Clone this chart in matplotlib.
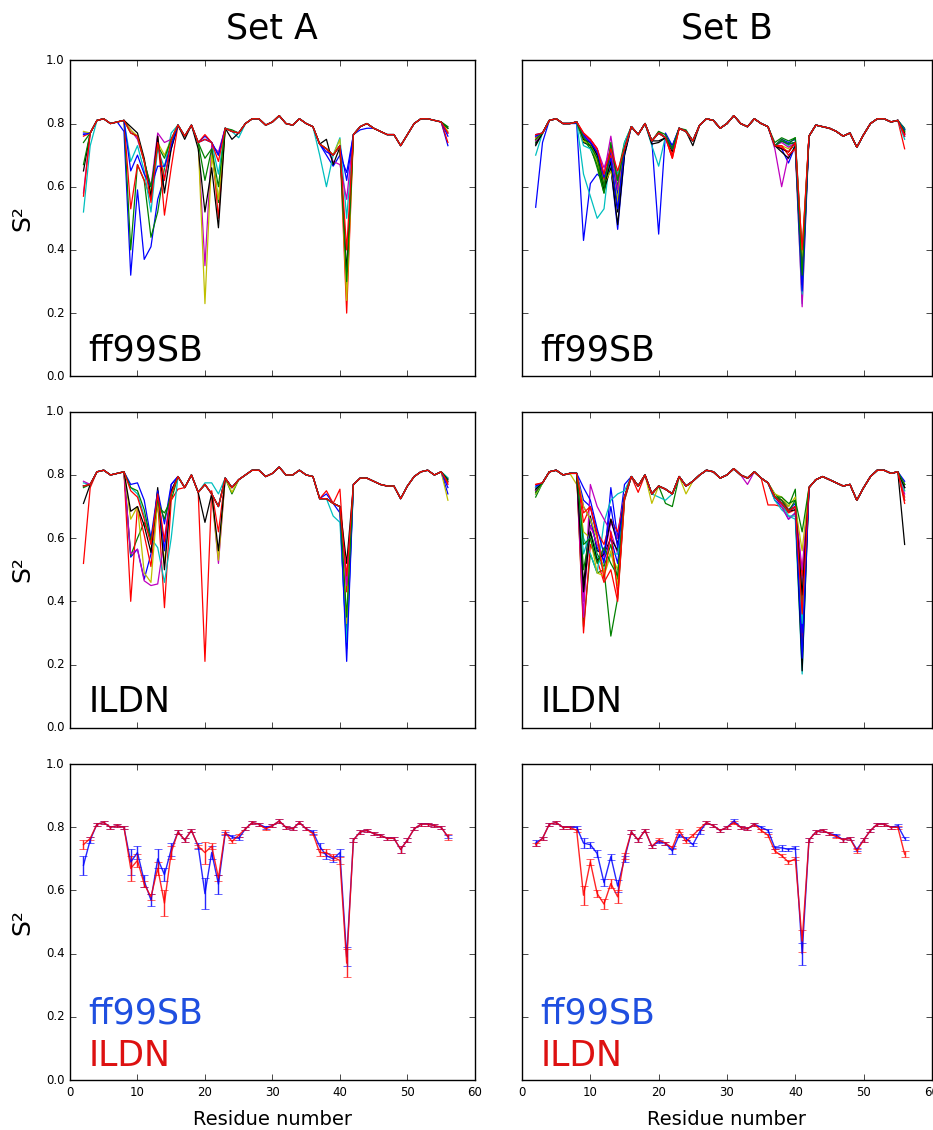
import matplotlib
matplotlib.use("Agg")
import matplotlib.pyplot as plt

plt.style.use("classic")

# residues 2..56
RES = list(range(2, 57))

# ---- typical per-residue profile of each ensemble (runs deviate from it where listed)
A_FF_BASE = [0.76, 0.77, 0.81, 0.815, 0.80, 0.805, 0.81, 0.79, 0.76, 0.68,
             0.60, 0.75, 0.68, 0.75, 0.795, 0.76, 0.795, 0.74, 0.76, 0.74,
             0.70, 0.785, 0.775, 0.77, 0.80, 0.815, 0.815, 0.795, 0.805, 0.825,
             0.80, 0.795, 0.815, 0.80, 0.79, 0.735, 0.72, 0.70, 0.73, 0.45,
             0.765, 0.79, 0.80, 0.785, 0.775, 0.765, 0.765, 0.73, 0.765, 0.80,
             0.815, 0.815, 0.81, 0.805, 0.785]
A_IL_BASE = [0.765, 0.77, 0.81, 0.815, 0.80, 0.805, 0.81, 0.76, 0.76, 0.70,
             0.60, 0.75, 0.55, 0.74, 0.795, 0.76, 0.80, 0.745, 0.77, 0.74,
             0.70, 0.79, 0.76, 0.785, 0.80, 0.815, 0.815, 0.795, 0.805, 0.825,
             0.80, 0.80, 0.815, 0.80, 0.795, 0.725, 0.725, 0.71, 0.70, 0.38,
             0.77, 0.79, 0.79, 0.78, 0.77, 0.765, 0.765, 0.725, 0.765, 0.795,
             0.81, 0.815, 0.80, 0.81, 0.78]
B_FF_BASE = [0.75, 0.77, 0.81, 0.815, 0.80, 0.80, 0.805, 0.76, 0.74, 0.70,
             0.62, 0.70, 0.60, 0.72, 0.79, 0.765, 0.80, 0.745, 0.77, 0.755,
             0.72, 0.785, 0.775, 0.745, 0.795, 0.815, 0.81, 0.785, 0.80, 0.825,
             0.80, 0.79, 0.815, 0.80, 0.79, 0.73, 0.745, 0.735, 0.74, 0.38,
             0.76, 0.795, 0.79, 0.785, 0.775, 0.76, 0.77, 0.725, 0.765, 0.80,
             0.815, 0.815, 0.805, 0.81, 0.77]
B_IL_BASE = [0.75, 0.775, 0.81, 0.815, 0.80, 0.805, 0.805, 0.62, 0.68, 0.60,
             0.56, 0.63, 0.58, 0.73, 0.795, 0.765, 0.80, 0.74, 0.765, 0.755,
             0.74, 0.795, 0.765, 0.78, 0.80, 0.815, 0.81, 0.79, 0.80, 0.82,
             0.80, 0.79, 0.81, 0.79, 0.775, 0.73, 0.71, 0.685, 0.70, 0.42,
             0.76, 0.785, 0.795, 0.785, 0.775, 0.765, 0.77, 0.72, 0.76, 0.795,
             0.815, 0.815, 0.805, 0.81, 0.74]

# ---- individual runs: residue -> S2 where the run departs from the profile
A_FF_RUNS = [
    {2: 0.77, 8: 0.775, 9: 0.32, 10: 0.59, 11: 0.37, 12: 0.41, 13: 0.56, 14: 0.63, 15: 0.72,
     38: 0.70, 39: 0.665, 40: 0.70, 41: 0.645, 43: 0.78, 44: 0.785, 56: 0.73},
    {2: 0.74, 9: 0.40, 10: 0.67, 11: 0.62, 12: 0.44, 13: 0.52, 14: 0.66, 15: 0.74,
     20: 0.69, 21: 0.72, 22: 0.55, 24: 0.78, 41: 0.28, 56: 0.79},
    {2: 0.76, 9: 0.53, 10: 0.67, 11: 0.62, 12: 0.56, 13: 0.76, 14: 0.51, 15: 0.66,
     20: 0.765, 22: 0.50, 41: 0.20, 56: 0.74},
    {2: 0.52, 3: 0.73, 9: 0.68, 10: 0.73, 11: 0.65, 12: 0.52, 13: 0.72, 14: 0.66, 15: 0.77,
     20: 0.75, 22: 0.64, 25: 0.755, 37: 0.70, 38: 0.60, 39: 0.70, 40: 0.755, 41: 0.50, 56: 0.77},
    {2: 0.58, 9: 0.78, 10: 0.75, 11: 0.68, 12: 0.60, 13: 0.77, 14: 0.74, 15: 0.75,
     20: 0.35, 21: 0.73, 22: 0.71, 39: 0.68, 40: 0.67, 41: 0.56, 56: 0.77},
    {2: 0.775, 9: 0.78, 12: 0.58, 13: 0.74, 14: 0.70, 20: 0.23, 21: 0.70, 22: 0.56,
     40: 0.75, 41: 0.24, 56: 0.775},
    {2: 0.65, 9: 0.79, 10: 0.77, 11: 0.69, 12: 0.57, 13: 0.76, 14: 0.58, 15: 0.72,
     17: 0.75, 19: 0.72, 20: 0.52, 21: 0.66, 22: 0.47, 24: 0.75,
     38: 0.75, 39: 0.67, 40: 0.725, 41: 0.33, 56: 0.785},
    {2: 0.765, 9: 0.65, 10: 0.70, 11: 0.64, 12: 0.60, 13: 0.665, 14: 0.665, 15: 0.73,
     20: 0.75, 22: 0.70, 38: 0.71, 41: 0.62, 56: 0.76},
    {2: 0.67, 9: 0.77, 12: 0.60, 13: 0.73, 14: 0.69, 20: 0.62, 21: 0.72, 22: 0.60,
     41: 0.30, 56: 0.785},
    {2: 0.57, 9: 0.77, 12: 0.55, 13: 0.74, 14: 0.62, 20: 0.75, 22: 0.68, 41: 0.40, 56: 0.77},
]

A_IL_RUNS = [
    {9: 0.54, 10: 0.565, 11: 0.47, 12: 0.55, 13: 0.75, 14: 0.645, 15: 0.77,
     38: 0.74, 39: 0.71, 40: 0.68, 41: 0.25, 56: 0.74},
    {2: 0.76, 9: 0.545, 10: 0.60, 11: 0.65, 12: 0.60, 13: 0.70, 14: 0.68, 15: 0.72,
     21: 0.74, 22: 0.70, 24: 0.74, 41: 0.30, 56: 0.79},
    {2: 0.52, 3: 0.76, 9: 0.40, 10: 0.70, 11: 0.61, 12: 0.51, 13: 0.72, 14: 0.38, 15: 0.72,
     16: 0.755, 20: 0.21, 21: 0.75, 22: 0.62, 38: 0.75, 40: 0.755, 41: 0.43, 56: 0.77},
    {2: 0.775, 9: 0.76, 10: 0.74, 11: 0.67, 12: 0.60, 13: 0.57, 14: 0.46, 15: 0.60,
     20: 0.775, 21: 0.775, 22: 0.74, 39: 0.67, 40: 0.65, 41: 0.27, 56: 0.79},
    {2: 0.78, 9: 0.55, 10: 0.565, 11: 0.465, 12: 0.45, 13: 0.455, 14: 0.60, 15: 0.75,
     22: 0.52, 41: 0.45, 56: 0.78},
    {9: 0.66, 10: 0.70, 11: 0.49, 12: 0.46, 13: 0.72, 14: 0.52, 15: 0.74,
     22: 0.53, 24: 0.745, 41: 0.33, 56: 0.72},
    {2: 0.71, 9: 0.685, 10: 0.70, 11: 0.64, 12: 0.555, 13: 0.76, 14: 0.50, 15: 0.75,
     20: 0.65, 22: 0.56, 41: 0.52, 56: 0.785},
    {9: 0.77, 10: 0.775, 11: 0.72, 12: 0.60, 13: 0.75, 14: 0.56, 15: 0.77, 41: 0.21, 56: 0.76},
    {9: 0.76, 10: 0.75, 11: 0.69, 12: 0.59, 13: 0.72, 14: 0.66, 41: 0.35, 56: 0.78},
    {9: 0.75, 10: 0.73, 11: 0.66, 12: 0.58, 13: 0.74, 14: 0.59, 41: 0.48, 56: 0.775},
]

B_FF_RUNS = [
    {2: 0.535, 3: 0.74, 8: 0.80, 9: 0.43, 10: 0.61, 11: 0.64, 12: 0.62, 13: 0.66, 14: 0.465,
     15: 0.70, 20: 0.45, 21: 0.77, 22: 0.73, 38: 0.72, 39: 0.675, 40: 0.73, 41: 0.30, 56: 0.76},
    {2: 0.74, 9: 0.75, 10: 0.73, 11: 0.66, 12: 0.58, 13: 0.68, 14: 0.64, 15: 0.74,
     24: 0.78, 37: 0.74, 38: 0.755, 39: 0.745, 40: 0.755, 41: 0.33, 56: 0.78},
    {2: 0.76, 9: 0.76, 10: 0.745, 11: 0.71, 12: 0.60, 13: 0.72, 14: 0.62, 20: 0.775,
     22: 0.69, 38: 0.72, 39: 0.71, 41: 0.36, 56: 0.72},
    {2: 0.70, 9: 0.64, 10: 0.57, 11: 0.50, 12: 0.53, 13: 0.72, 14: 0.57, 15: 0.74,
     19: 0.73, 20: 0.665, 21: 0.76, 39: 0.73, 40: 0.72, 41: 0.23, 56: 0.75},
    {2: 0.76, 9: 0.76, 10: 0.75, 11: 0.72, 12: 0.64, 13: 0.76, 14: 0.62,
     37: 0.72, 38: 0.60, 39: 0.70, 40: 0.72, 41: 0.22, 56: 0.77},
    {2: 0.75, 9: 0.755, 10: 0.74, 11: 0.69, 12: 0.60, 13: 0.69, 14: 0.55, 15: 0.72,
     38: 0.73, 39: 0.72, 41: 0.35, 56: 0.77},
    {2: 0.735, 9: 0.74, 10: 0.73, 11: 0.68, 12: 0.59, 13: 0.66, 14: 0.48, 15: 0.70,
     19: 0.735, 20: 0.74, 22: 0.71, 25: 0.73, 38: 0.71, 39: 0.69, 40: 0.73, 41: 0.28, 56: 0.78},
    {2: 0.765, 9: 0.765, 10: 0.745, 11: 0.70, 12: 0.62, 13: 0.71, 14: 0.58, 22: 0.73,
     38: 0.75, 39: 0.74, 40: 0.75, 41: 0.37, 56: 0.765},
    {2: 0.745, 9: 0.75, 10: 0.72, 11: 0.67, 12: 0.58, 13: 0.74, 14: 0.60, 20: 0.775,
     21: 0.765, 38: 0.75, 40: 0.755, 41: 0.39, 56: 0.785},
    {2: 0.755, 9: 0.77, 10: 0.75, 11: 0.72, 12: 0.62, 13: 0.70, 14: 0.63, 22: 0.70,
     38: 0.73, 39: 0.70, 40: 0.72, 41: 0.31, 56: 0.76},
    {2: 0.76, 9: 0.73, 10: 0.72, 11: 0.69, 12: 0.61, 13: 0.67, 14: 0.64, 41: 0.26, 56: 0.78},
    {2: 0.745, 9: 0.76, 10: 0.745, 11: 0.72, 12: 0.66, 13: 0.72, 14: 0.59,
     38: 0.74, 39: 0.725, 41: 0.34, 56: 0.765},
    {2: 0.75, 9: 0.745, 10: 0.735, 11: 0.68, 12: 0.61, 13: 0.65, 14: 0.56, 41: 0.38, 56: 0.775},
    {2: 0.73, 9: 0.75, 10: 0.74, 11: 0.70, 12: 0.60, 13: 0.68, 14: 0.52, 20: 0.745,
     38: 0.72, 39: 0.71, 41: 0.29, 56: 0.77},
    {2: 0.76, 9: 0.76, 10: 0.74, 11: 0.71, 12: 0.63, 13: 0.69, 14: 0.53, 41: 0.27, 56: 0.78},
    {2: 0.75, 9: 0.755, 10: 0.73, 11: 0.69, 12: 0.60, 13: 0.73, 14: 0.62, 41: 0.32, 56: 0.775},
    {2: 0.765, 9: 0.77, 10: 0.75, 11: 0.72, 12: 0.64, 13: 0.72, 14: 0.65, 22: 0.69,
     38: 0.725, 39: 0.71, 41: 0.40, 56: 0.765},
]

B_IL_RUNS = [
    {2: 0.74, 9: 0.72, 10: 0.70, 11: 0.60, 12: 0.52, 13: 0.76, 14: 0.60, 15: 0.77,
     37: 0.72, 38: 0.70, 39: 0.66, 40: 0.68, 41: 0.35, 56: 0.77},
    {2: 0.73, 9: 0.32, 10: 0.55, 11: 0.49, 12: 0.50, 13: 0.29, 14: 0.41, 15: 0.72,
     19: 0.74, 21: 0.71, 22: 0.70, 37: 0.74, 38: 0.72, 39: 0.70, 40: 0.755, 41: 0.25, 56: 0.76},
    {2: 0.76, 9: 0.30, 10: 0.58, 11: 0.53, 12: 0.46, 13: 0.50, 14: 0.40, 15: 0.72,
     17: 0.745, 36: 0.705, 37: 0.705, 38: 0.70, 39: 0.68, 40: 0.69, 41: 0.28, 56: 0.73},
    {2: 0.74, 9: 0.60, 10: 0.55, 11: 0.49, 12: 0.65, 13: 0.72, 14: 0.74, 15: 0.75,
     20: 0.73, 21: 0.72, 37: 0.72, 38: 0.69, 39: 0.67, 40: 0.66, 41: 0.17, 56: 0.72},
    {2: 0.76, 9: 0.35, 10: 0.77, 11: 0.70, 12: 0.66, 13: 0.62, 14: 0.55, 33: 0.77,
     37: 0.73, 38: 0.70, 39: 0.66, 40: 0.68, 41: 0.45, 56: 0.74},
    {2: 0.75, 8: 0.77, 9: 0.62, 10: 0.60, 11: 0.49, 12: 0.48, 13: 0.55, 14: 0.50,
     19: 0.71, 24: 0.74, 37: 0.74, 38: 0.73, 39: 0.70, 40: 0.73, 41: 0.40, 56: 0.75},
    {2: 0.75, 9: 0.45, 10: 0.67, 11: 0.56, 12: 0.55, 13: 0.60, 14: 0.56,
     37: 0.73, 38: 0.71, 39: 0.685, 40: 0.69, 41: 0.18, 56: 0.58},
    {2: 0.76, 9: 0.70, 10: 0.66, 11: 0.57, 12: 0.53, 13: 0.60, 14: 0.52,
     38: 0.72, 39: 0.69, 40: 0.71, 41: 0.30, 56: 0.77},
    {2: 0.75, 9: 0.50, 10: 0.62, 11: 0.55, 12: 0.51, 13: 0.58, 14: 0.47,
     38: 0.73, 39: 0.71, 40: 0.72, 41: 0.38, 56: 0.76},
    {2: 0.77, 9: 0.65, 10: 0.70, 11: 0.62, 12: 0.58, 13: 0.66, 14: 0.62, 38: 0.72,
     39: 0.69, 41: 0.48, 56: 0.71},
    {2: 0.76, 9: 0.55, 10: 0.62, 11: 0.54, 12: 0.50, 13: 0.55, 14: 0.55,
     39: 0.67, 40: 0.67, 41: 0.33, 56: 0.75},
    {2: 0.75, 9: 0.40, 10: 0.64, 11: 0.58, 12: 0.54, 13: 0.65, 14: 0.60, 41: 0.50, 56: 0.76},
    {2: 0.74, 9: 0.70, 10: 0.66, 11: 0.60, 12: 0.49, 13: 0.56, 14: 0.45, 41: 0.56, 56: 0.77},
    {2: 0.755, 9: 0.43, 10: 0.62, 11: 0.53, 12: 0.55, 13: 0.66, 14: 0.58, 41: 0.42, 56: 0.76},
    {2: 0.765, 9: 0.76, 10: 0.72, 11: 0.63, 12: 0.55, 13: 0.70, 14: 0.57, 41: 0.22, 56: 0.78},
    {2: 0.745, 9: 0.58, 10: 0.60, 11: 0.52, 12: 0.57, 13: 0.52, 14: 0.48,
     38: 0.72, 40: 0.72, 41: 0.62, 56: 0.77},
    {2: 0.77, 9: 0.68, 10: 0.70, 11: 0.61, 12: 0.47, 13: 0.62, 14: 0.42, 41: 0.36, 56: 0.72},
]

# ---- ensemble averages with error bars (bottom row)
A_FF_MEAN = [0.68, 0.76, 0.81, 0.815, 0.80, 0.805, 0.80, 0.69, 0.72, 0.63,
             0.57, 0.70, 0.65, 0.73, 0.785, 0.76, 0.79, 0.74, 0.59, 0.72,
             0.62, 0.78, 0.77, 0.765, 0.795, 0.815, 0.81, 0.80, 0.805, 0.82,
             0.80, 0.795, 0.815, 0.795, 0.785, 0.74, 0.71, 0.70, 0.72, 0.39,
             0.76, 0.785, 0.79, 0.78, 0.775, 0.765, 0.765, 0.73, 0.76, 0.795,
             0.81, 0.81, 0.805, 0.80, 0.77]
A_FF_ERR = [0.03, 0.01, 0.005, 0.005, 0.005, 0.005, 0.005, 0.04, 0.02, 0.02,
            0.02, 0.03, 0.02, 0.02, 0.005, 0.005, 0.005, 0.01, 0.05, 0.02,
            0.03, 0.005, 0.005, 0.005, 0.005, 0.005, 0.005, 0.005, 0.005, 0.005,
            0.005, 0.005, 0.005, 0.005, 0.005, 0.01, 0.01, 0.01, 0.01, 0.03,
            0.005, 0.005, 0.005, 0.005, 0.005, 0.005, 0.005, 0.01, 0.005, 0.005,
            0.005, 0.005, 0.005, 0.005, 0.005]
A_IL_MEAN = [0.745, 0.765, 0.81, 0.815, 0.80, 0.805, 0.80, 0.67, 0.695, 0.62,
             0.58, 0.67, 0.56, 0.72, 0.785, 0.76, 0.79, 0.74, 0.72, 0.74,
             0.64, 0.785, 0.755, 0.775, 0.795, 0.815, 0.81, 0.795, 0.805, 0.82,
             0.80, 0.795, 0.815, 0.795, 0.78, 0.72, 0.72, 0.705, 0.695, 0.37,
             0.76, 0.785, 0.79, 0.78, 0.775, 0.765, 0.765, 0.73, 0.76, 0.795,
             0.81, 0.81, 0.805, 0.80, 0.77]
A_IL_ERR = [0.015, 0.005, 0.005, 0.005, 0.005, 0.005, 0.005, 0.04, 0.02, 0.01,
            0.01, 0.02, 0.04, 0.02, 0.005, 0.005, 0.005, 0.005, 0.035, 0.01,
            0.01, 0.005, 0.005, 0.005, 0.005, 0.005, 0.005, 0.005, 0.005, 0.005,
            0.005, 0.005, 0.005, 0.005, 0.005, 0.01, 0.01, 0.01, 0.01, 0.045,
            0.005, 0.005, 0.005, 0.005, 0.005, 0.005, 0.005, 0.01, 0.005, 0.005,
            0.005, 0.005, 0.005, 0.005, 0.01]
B_FF_MEAN = [0.75, 0.765, 0.81, 0.815, 0.80, 0.80, 0.80, 0.75, 0.745, 0.717,
             0.625, 0.707, 0.614, 0.70, 0.785, 0.76, 0.79, 0.74, 0.755, 0.75,
             0.725, 0.775, 0.765, 0.745, 0.785, 0.815, 0.805, 0.79, 0.80, 0.82,
             0.80, 0.795, 0.81, 0.80, 0.79, 0.735, 0.735, 0.73, 0.735, 0.40,
             0.76, 0.785, 0.79, 0.78, 0.775, 0.76, 0.765, 0.73, 0.76, 0.79,
             0.81, 0.81, 0.80, 0.805, 0.765]
B_FF_ERR = [0.01, 0.005, 0.005, 0.005, 0.005, 0.005, 0.005, 0.015, 0.01, 0.01,
            0.01, 0.01, 0.02, 0.01, 0.005, 0.005, 0.005, 0.005, 0.005, 0.005,
            0.01, 0.005, 0.005, 0.005, 0.005, 0.005, 0.005, 0.005, 0.005, 0.005,
            0.005, 0.005, 0.005, 0.005, 0.005, 0.005, 0.01, 0.005, 0.005, 0.035,
            0.005, 0.005, 0.005, 0.005, 0.005, 0.005, 0.005, 0.005, 0.005, 0.005,
            0.005, 0.005, 0.005, 0.005, 0.005]
B_IL_MEAN = [0.745, 0.765, 0.81, 0.815, 0.80, 0.80, 0.79, 0.585, 0.69, 0.59,
             0.557, 0.622, 0.58, 0.71, 0.785, 0.76, 0.79, 0.74, 0.76, 0.75,
             0.735, 0.79, 0.755, 0.775, 0.795, 0.815, 0.805, 0.79, 0.80, 0.815,
             0.80, 0.795, 0.81, 0.79, 0.775, 0.725, 0.71, 0.69, 0.70, 0.44,
             0.76, 0.785, 0.79, 0.78, 0.77, 0.76, 0.765, 0.725, 0.76, 0.79,
             0.81, 0.81, 0.80, 0.80, 0.715]
B_IL_ERR = [0.005, 0.005, 0.005, 0.005, 0.005, 0.005, 0.005, 0.03, 0.01, 0.01,
            0.015, 0.015, 0.02, 0.01, 0.005, 0.005, 0.005, 0.005, 0.005, 0.005,
            0.005, 0.005, 0.005, 0.005, 0.005, 0.005, 0.005, 0.005, 0.005, 0.005,
            0.005, 0.005, 0.005, 0.005, 0.005, 0.005, 0.005, 0.005, 0.005, 0.035,
            0.005, 0.005, 0.005, 0.005, 0.005, 0.005, 0.005, 0.005, 0.005, 0.005,
            0.005, 0.005, 0.005, 0.005, 0.01]

FF_COLOR = "#1f4fe0"
IL_COLOR = "#dd1111"


def run_line(base, run):
    return [run.get(r, b) for r, b in zip(RES, base)]


fig = plt.figure(figsize=(9.33, 11.3), dpi=100, facecolor="white")

lefts = [0.075, 0.5595]
widths = [0.434, 0.4394]
bottoms = [0.667, 0.356, 0.0442]
height = 0.2796

panels = [
    [(A_FF_BASE, A_FF_RUNS, "ff99SB"), (B_FF_BASE, B_FF_RUNS, "ff99SB")],
    [(A_IL_BASE, A_IL_RUNS, "ILDN"), (B_IL_BASE, B_IL_RUNS, "ILDN")],
]
means = [(A_FF_MEAN, A_FF_ERR, A_IL_MEAN, A_IL_ERR),
         (B_FF_MEAN, B_FF_ERR, B_IL_MEAN, B_IL_ERR)]

for col in range(2):
    for row in range(3):
        ax = fig.add_axes([lefts[col], bottoms[row], widths[col], height])
        if row < 2:
            base, runs, label = panels[row][col]
            for run in runs:
                ax.plot(RES, run_line(base, run), lw=0.9)
            ax.text(0.045, 0.05, label, transform=ax.transAxes, fontsize=25,
                    va="baseline", ha="left", color="black")
        else:
            fm, fe, im, ie = means[col]
            ax.errorbar(RES, fm, yerr=fe, color="b", ecolor=(0, 0, 1, 0.5),
                        capsize=3, lw=1.0, alpha=0.85)
            ax.errorbar(RES, im, yerr=ie, color="r", ecolor=(1, 0, 0, 0.5),
                        capsize=3, lw=1.0, alpha=0.85)
            ax.text(0.045, 0.18, "ff99SB", transform=ax.transAxes, fontsize=25,
                    va="baseline", ha="left", color=FF_COLOR)
            ax.text(0.045, 0.044, "ILDN", transform=ax.transAxes, fontsize=25,
                    va="baseline", ha="left", color=IL_COLOR)
        ax.set_xlim(0, 60)
        ax.set_ylim(0, 1.0)
        ax.set_xticks(range(0, 61, 10))
        ax.set_yticks([0.0, 0.2, 0.4, 0.6, 0.8, 1.0])
        ax.tick_params(labelsize=8.5, direction="in", top=True, right=True)
        if row < 2:
            ax.set_xticklabels([])
        if col == 1:
            ax.set_yticklabels([])

fig.text(0.2917, 0.975, "Set A", fontsize=25, ha="center", va="center")
fig.text(0.7792, 0.975, "Set B", fontsize=25, ha="center", va="center")
for yc in [0.807, 0.496, 0.184]:
    fig.text(0.024, yc, "S²", fontsize=18, rotation=90, ha="center", va="center")
fig.text(0.2917, 0.009, "Residue number", fontsize=14, ha="center", va="center")
fig.text(0.7792, 0.009, "Residue number", fontsize=14, ha="center", va="center")

fig.savefig("out.png", dpi=100, facecolor="white")
